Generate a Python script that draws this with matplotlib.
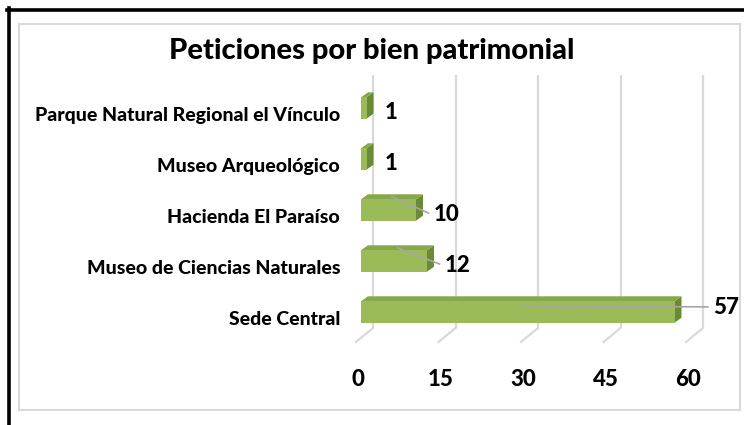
import matplotlib.pyplot as plt
import matplotlib.transforms as mtrans
from matplotlib.lines import Line2D
from matplotlib.patches import Polygon, Rectangle

categories = [
    "Parque Natural Regional el Vínculo",
    "Museo Arqueológico",
    "Hacienda El Paraíso",
    "Museo de Ciencias Naturales",
    "Sede Central",
]
values = [1, 1, 10, 12, 57]
xticks = [0, 15, 30, 45, 60]
title = "Peticiones por bien patrimonial"

FRONT = "#9BBB59"
TOP = "#86A84A"
SIDE = "#6A8A36"
GRID = "#D9D9D9"
FONT = "Lato"
WEIGHT = 900

W, H = 744, 425
fig = plt.figure(figsize=(W / 100, H / 100), dpi=100)
ax_px = (361, 87, 330, 253)  # left, bottom, width, height in pixels
ax = fig.add_axes([ax_px[0] / W, ax_px[1] / H, ax_px[2] / W, ax_px[3] / H])
y0 = -0.51
y1 = y0 + ax_px[3] / 51
ax.set_xlim(0, 60)
ax.set_ylim(y0, y1)

# pixel -> data helpers
px_x = 60 / ax_px[2]
px_y = (y1 - y0) / ax_px[3]
BX, BY = 12 * px_x, 10 * px_y      # back wall offset
FX, FY = -5 * px_x, -4 * px_y      # front floor edge offset
DX, DY = 7 * px_x, 5 * px_y        # bar depth

# back wall gridlines + floor diagonals
for t in xticks:
    ax.plot([t + BX, t + BX], [y0 + BY, y1 + BY], color=GRID, lw=1.6,
            clip_on=False, zorder=1, solid_capstyle="butt")
    ax.plot([t + FX, t + BX], [y0 + FY, y0 + BY], color=GRID, lw=1.6,
            clip_on=False, zorder=1)

ypos = list(range(len(categories)))[::-1]
bh = 0.42
for y, v in zip(ypos, values):
    top = y + bh / 2
    bot = y - bh / 2
    ax.add_patch(Polygon([(v, bot), (v + DX, bot + DY), (v + DX, top + DY), (v, top)],
                         closed=True, facecolor=SIDE, edgecolor="none", zorder=3, clip_on=False))
    ax.add_patch(Polygon([(0, top), (DX, top + DY), (v + DX, top + DY), (v, top)],
                         closed=True, facecolor=TOP, edgecolor="none", zorder=3, clip_on=False))
ax.barh(ypos, values, height=bh, color=FRONT, edgecolor="none", zorder=4)

# data labels with leader lines
for y, v in zip(ypos, values):
    gap = 5.8 if v == max(values) else 2.0
    lx = v + DX + gap
    ly = y - 0.08 if v != max(values) else y + 0.08
    ax.text(lx, ly, str(v), ha="left", va="center", fontsize=16, fontweight=WEIGHT,
            family=FONT, color="black", zorder=6, clip_on=False)
    if v >= 10:
        sy = y + bh / 2 + DY / 2 if v != max(values) else ly + 0.04
        ax.plot([v / 2 + DX / 2, lx - 1.0], [sy, ly + 0.02],
                color="#A6A6A6", lw=1.2, zorder=5, clip_on=False)

ax.set_yticks(ypos, categories)
ax.set_xticks(xticks, [str(t) for t in xticks])
ax.tick_params(axis="both", length=0)
ax.tick_params(axis="y", pad=15)
ax.tick_params(axis="x", pad=22)
for lab in ax.get_yticklabels():
    lab.set_fontsize(14)
    lab.set_fontweight(WEIGHT)
    lab.set_family(FONT)
    lab.set_transform(lab.get_transform() + mtrans.ScaledTranslation(0, -0.06, fig.dpi_scale_trans))
for lab in ax.get_xticklabels():
    lab.set_fontsize(16)
    lab.set_fontweight(WEIGHT)
    lab.set_family(FONT)
    lab.set_transform(lab.get_transform() + mtrans.ScaledTranslation(-0.03, 0, fig.dpi_scale_trans))
for s in ax.spines.values():
    s.set_visible(False)
ax.patch.set_visible(False)

fig.text(372 / W, 1 - 51 / H, title, ha="center", va="center", fontsize=21,
         fontweight=WEIGHT, family=FONT)

# chart frame and outer black border
fig.add_artist(Rectangle((19 / W, 1 - 410 / H), (740 - 19) / W, (410 - 24) / H,
                         transform=fig.transFigure, fill=False, edgecolor=GRID, lw=1.5))
fig.add_artist(Line2D([7 / W, 1], [1 - 9.5 / H, 1 - 9.5 / H], color="black", lw=2.6,
                      transform=fig.transFigure))
fig.add_artist(Line2D([8.5 / W, 8.5 / W], [0, 1 - 8 / H], color="black", lw=2.6,
                      transform=fig.transFigure))

fig.savefig("out.png", dpi=100)
